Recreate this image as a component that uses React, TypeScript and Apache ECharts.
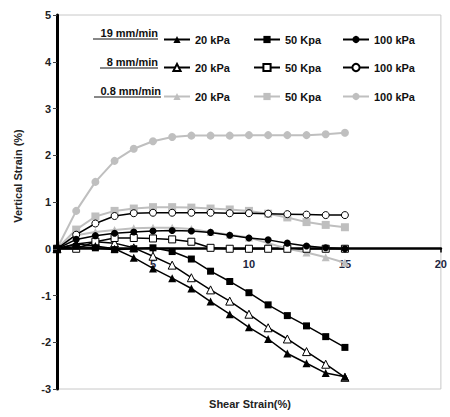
import React, { useEffect, useRef } from "react";
import * as echarts from "echarts";

const shearStrain = [0, 1, 2, 3, 4, 5, 6, 7, 8, 9, 10, 11, 12, 13, 14, 15];

const r19k20 = [0, 0.1, 0.06, 0.0, -0.19, -0.42, -0.63, -0.85, -1.13, -1.4, -1.68, -1.93, -2.24, -2.45, -2.66, -2.74];
const r19k50 = [0, 0.05, 0.02, -0.02, 0.0, 0.02, -0.06, -0.22, -0.48, -0.7, -0.94, -1.2, -1.43, -1.65, -1.88, -2.11];
const r19k100 = [0, 0.2, 0.28, 0.33, 0.36, 0.38, 0.39, 0.38, 0.35, 0.29, 0.23, 0.19, 0.12, 0.06, 0.02, 0.0];
const r8k20 = [0, 0.1, 0.15, 0.12, 0.02, -0.16, -0.35, -0.62, -0.88, -1.12, -1.4, -1.69, -1.93, -2.2, -2.47, -2.75];
const r8k50 = [0, 0.0, 0.15, 0.23, 0.23, 0.22, 0.2, 0.15, 0.02, 0, 0, 0, 0, 0, 0, 0];
const r8k100 = [0, 0.3, 0.54, 0.7, 0.76, 0.77, 0.77, 0.77, 0.77, 0.76, 0.76, 0.75, 0.74, 0.73, 0.72, 0.72];
const r08k20 = [0, 0.29, 0.36, 0.4, 0.44, 0.45, 0.45, 0.42, 0.36, 0.3, 0.24, 0.12, 0.0, -0.08, -0.18, -0.3];
const r08k50 = [0, 0.41, 0.69, 0.81, 0.86, 0.89, 0.89, 0.88, 0.86, 0.84, 0.81, 0.75, 0.67, 0.57, 0.51, 0.46];
const r08k100 = [0, 0.81, 1.43, 1.88, 2.14, 2.3, 2.39, 2.42, 2.42, 2.42, 2.43, 2.43, 2.43, 2.43, 2.45, 2.48];

const rateLabels = ["19 mm/min", "8 mm/min", "0.8 mm/min"];
const pressureLabels = ["20 kPa", "50 Kpa", "100 kPa"];
const xTicks = [0, 5, 10, 15, 20];
const yTicks = [-3, -2, -1, 0, 1, 2, 3, 4, 5];

const FONT = "Liberation Sans, Arial, sans-serif";
const GRAY = "#bfbfbf";

export default function App() {
  const ref = useRef<HTMLDivElement>(null);

  useEffect(() => {
    if (!ref.current) return;
    const chart = echarts.init(ref.current, null, { renderer: "svg" });

    const rows = [
      { data: [r19k20, r19k50, r19k100], kind: "solid" },
      { data: [r8k20, r8k50, r8k100], kind: "open" },
      { data: [r08k20, r08k50, r08k100], kind: "gray" },
    ];
    const symbols = ["triangle", "rect", "circle"];

    const series: any[] = [];
    const legends: any[] = [];
    const legendLeft = [163, 253, 342];
    const legendCenterY = [40, 68, 97];

    const order = [2, 1, 0];
    order.forEach((ri) => {
      const row = rows[ri];
      row.data.forEach((vals, pi) => {
        const name = `${rateLabels[ri]} ${pressureLabels[pi]}`;
        const isGray = row.kind === "gray";
        const isOpen = row.kind === "open";
        series.push({
          name,
          type: "line",
          data: shearStrain.map((x, i) => [x, vals[i]]),
          symbol: symbols[pi],
          symbolSize: isGray ? 8 : pi === 0 ? 8 : 7,
          showAllSymbol: true,
          lineStyle: { color: isGray ? GRAY : "#000", width: isGray ? 2 : 1.5 },
          itemStyle: {
            color: isGray ? GRAY : isOpen ? "#fff" : "#000",
            borderColor: isGray ? GRAY : "#000",
            borderWidth: isOpen ? 1 : 0,
          },
          z: isGray ? 2 : 3,
        });
      });
    });

    rows.forEach((row, ri) => {
      pressureLabels.forEach((p, pi) => {
        legends.push({
          data: [`${rateLabels[ri]} ${p}`],
          left: legendLeft[pi],
          top: legendCenterY[ri] - 6,
          padding: 0,
          itemWidth: 26,
          itemHeight: 9,
          itemGap: 0,
          selectedMode: false,
          formatter: () => p,
          textStyle: { fontFamily: FONT, fontWeight: "bold", fontSize: 11, color: "#111" },
        });
      });
    });

    const rowLabelY = [33, 62, 91];
    const graphics: any[] = [];
    rateLabels.forEach((t, ri) => {
      graphics.push({
        type: "text",
        x: ri === 2 ? 161 : 158,
        y: rowLabelY[ri],
        style: {
          text: t,
          font: `bold 11px ${FONT}`,
          fill: "#111",
          textAlign: "right",
          textVerticalAlign: "middle",
        },
      });
    });
    const underline = [
      [93, 158, 39],
      [100, 158, 68],
      [94, 161, 97],
    ];
    underline.forEach(([x1, x2, y]) => {
      graphics.push({
        type: "line",
        shape: { x1, y1: y, x2, y2: y },
        style: { stroke: "#111", lineWidth: 1 },
      });
    });
    graphics.push({
      type: "text",
      x: 18,
      y: 176,
      rotation: Math.PI / 2,
      style: {
        text: "Vertical Strain (%)",
        font: `bold 11px ${FONT}`,
        fill: "#222",
        textAlign: "center",
        textVerticalAlign: "middle",
      },
    });
    graphics.push({
      type: "text",
      x: 250,
      y: 404,
      style: {
        text: "Shear Strain(%)",
        font: `bold 11px ${FONT}`,
        fill: "#222",
        textAlign: "center",
        textVerticalAlign: "middle",
      },
    });

    chart.setOption({
      animation: false,
      backgroundColor: "#fff",
      grid: {
        left: 57,
        right: 7,
        top: 15,
        bottom: 28,
        show: true,
        borderColor: "#c8c8c8",
        borderWidth: 1,
      },
      legend: legends,
      xAxis: {
        type: "value",
        min: xTicks[0],
        max: xTicks[xTicks.length - 1],
        interval: 5,
        position: "bottom",
        offset: -140.5,
        z: 1,
        axisLine: { onZero: false, lineStyle: { color: "#000", width: 2.5 } },
        axisTick: { show: true, length: 4, lineStyle: { color: "#000", width: 1.5 } },
        axisLabel: {
          margin: 10,
          fontFamily: FONT,
          fontWeight: "bold",
          fontSize: 11,
          color: "#1c2540",
          showMinLabel: false,
        },
        splitLine: { show: false },
      },
      yAxis: {
        type: "value",
        min: yTicks[0],
        max: yTicks[yTicks.length - 1],
        interval: 1,
        z: 4,
        axisLine: { onZero: false, lineStyle: { color: "#000", width: 3 } },
        axisTick: { show: true, length: 4, lineStyle: { color: "#444", width: 1 } },
        axisLabel: {
          margin: 6,
          fontFamily: FONT,
          fontWeight: "bold",
          fontSize: 11,
          color: "#222",
        },
        splitLine: { show: false },
      },
      graphic: graphics,
      series,
    });

    return () => chart.dispose();
  }, []);

  return <div ref={ref} style={{ width: 450, height: 417, position: "absolute", left: 0, top: 0 }} />;
}
